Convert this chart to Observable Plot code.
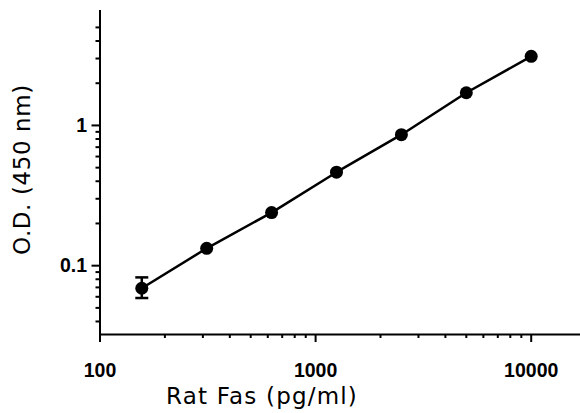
<!DOCTYPE html>
<html>
<head>
<meta charset="utf-8">
<script src="https://cdn.jsdelivr.net/npm/d3@7"></script>
<script src="https://cdn.jsdelivr.net/npm/@observablehq/plot@0.6"></script>
<style>
  html, body { margin: 0; padding: 0; background: #fff; }
  #chart { width: 580px; height: 413px; }
</style>
</head>
<body>
<div id="chart"></div>
<script>
// Data
const concentration = [156.25, 312.5, 625, 1250, 2500, 5000, 10000];
const od = [0.069, 0.133, 0.239, 0.464, 0.859, 1.71, 3.11];
const errLow = [0.0588, null, null, null, null, null, null];
const errHigh = [0.0825, null, null, null, null, null, null];

const xMajorTicks = [100, 1000, 10000];
const xMinorTicks = [200, 300, 400, 500, 600, 700, 800, 900, 2000, 3000, 4000, 5000, 6000, 7000, 8000, 9000];
const yMajorTicks = [0.1, 1];
const yMinorTicks = [0.04, 0.05, 0.06, 0.07, 0.08, 0.09, 0.2, 0.3, 0.4, 0.5, 0.6, 0.7, 0.8, 0.9, 2, 3, 4, 5];
const xDomain = [100, 16930];
const yDomain = [0.0323, 6.6];

const xTitle = "Rat Fas (pg/ml)";
const yTitle = "O.D. (450 nm)";

const points = concentration.map((c, i) => ({c, od: od[i], lo: errLow[i], hi: errHigh[i]}));
const errPoints = points.filter(d => d.lo != null && d.hi != null);

const capSymbol = {
  draw(context, size) {
    const w = Math.sqrt(size / Math.PI);
    context.moveTo(-w, 0);
    context.lineTo(w, 0);
  }
};

const titleFont = {fontFamily: "DejaVu Sans, sans-serif", fontSize: 23};

const chart = Plot.plot({
  width: 580,
  height: 413,
  marginLeft: 99.5,
  marginRight: 0,
  marginTop: 10,
  marginBottom: 79,
  style: {background: "#fff", color: "#000"},
  x: {type: "log", domain: xDomain, axis: null},
  y: {type: "log", domain: yDomain, axis: null},
  marks: [
    // axis lines
    Plot.ruleY([yDomain[0]], {stroke: "#000", strokeWidth: 2}),
    Plot.ruleX([xDomain[0]], {stroke: "#000", strokeWidth: 2}),
    // x ticks
    Plot.axisX({ticks: xMinorTicks, tickSize: 4, strokeWidth: 2, text: null, label: null}),
    Plot.axisX({ticks: xMajorTicks, tickSize: 8, tickPadding: 21, strokeWidth: 2, label: null,
      tickFormat: d => String(d)}),
    // y ticks
    Plot.axisY({ticks: yMinorTicks, tickSize: 4, strokeWidth: 2, text: null, label: null}),
    Plot.axisY({ticks: yMajorTicks, tickSize: 8, tickPadding: 5, strokeWidth: 2, label: null,
      tickFormat: d => String(d)}),
    // titles
    Plot.text([xTitle], {frameAnchor: "bottom-left", dx: 162, dy: 69, textAnchor: "middle", fill: "#000", ...titleFont}),
    Plot.text([yTitle], {frameAnchor: "left", rotate: -90, dx: -77, dy: -3, textAnchor: "middle", fill: "#000", ...titleFont}),
    // error bar
    Plot.ruleX(errPoints, {x: "c", y1: "lo", y2: "hi", stroke: "#000", strokeWidth: 2.5}),
    Plot.dot(errPoints, {x: "c", y: "lo", symbol: capSymbol, r: 6.5, stroke: "#000", strokeWidth: 2.5, fill: "none"}),
    Plot.dot(errPoints, {x: "c", y: "hi", symbol: capSymbol, r: 6.5, stroke: "#000", strokeWidth: 2.5, fill: "none"}),
    // curve and points
    Plot.line(points, {x: "c", y: "od", stroke: "#000", strokeWidth: 2.5}),
    Plot.dot(points, {x: "c", y: "od", r: 6.5, fill: "#000", stroke: "none"})
  ]
});

const svg = d3.select(chart);
const tickLabels = new Set([...xMajorTicks, ...yMajorTicks].map(String));
svg.selectAll("text").each(function () {
  const t = this.textContent;
  const s = d3.select(this);
  if (tickLabels.has(t)) {
    s.style("font-family", "'Liberation Sans', Arial, sans-serif")
     .style("font-size", "19.5px")
     .style("font-weight", "bold")
     .style("fill", "#000");
  }
  if (t === xTitle) s.attr("letter-spacing", "1.2px");
  if (t === yTitle) s.attr("letter-spacing", "0.6px");
});

document.getElementById("chart").appendChild(chart);
</script>
</body>
</html>
